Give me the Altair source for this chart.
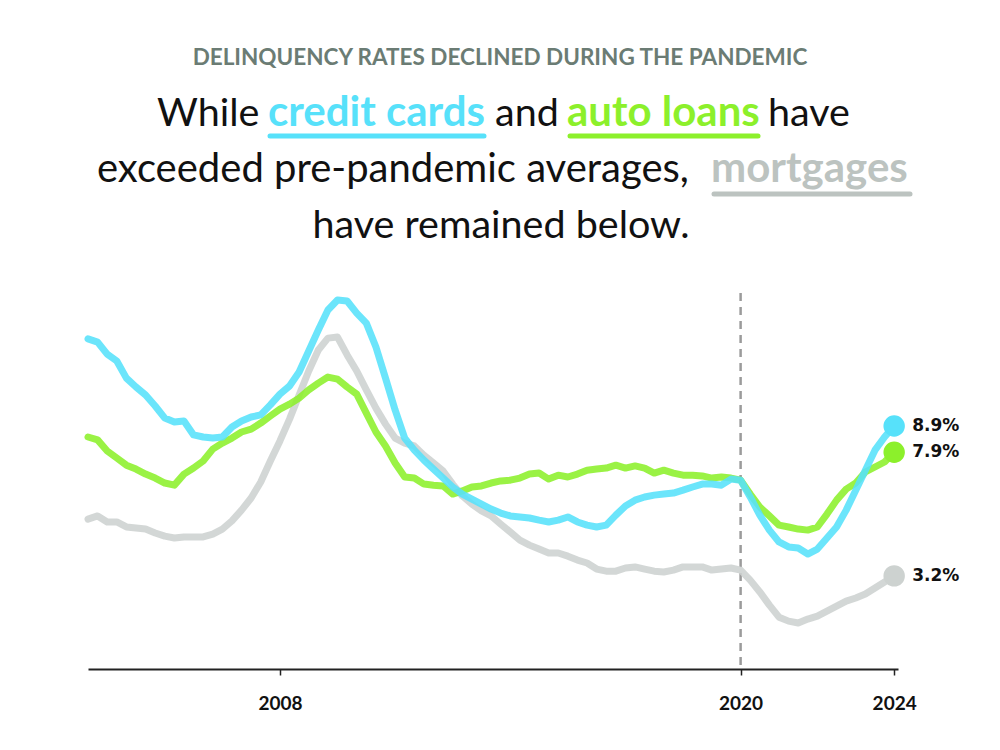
import altair as alt
import pandas as pd

start_year = 2003
credit_cards = [12.21, 12.09, 11.63, 11.37, 10.72, 10.38, 10.08, 9.66, 9.20, 9.05, 9.09, 8.56, 8.48, 8.44, 8.48, 8.86,
                9.09, 9.24, 9.32, 9.70, 10.11, 10.42, 10.95, 11.75, 12.55, 13.31, 13.69, 13.65, 13.19, 12.81, 11.90, 10.72,
                9.51, 8.44, 7.98, 7.60, 7.26, 6.92, 6.58, 6.31, 6.12, 5.93, 5.74, 5.59, 5.48, 5.44, 5.40, 5.32,
                5.25, 5.32, 5.44, 5.25, 5.13, 5.06, 5.13, 5.51, 5.86, 6.08, 6.20, 6.27, 6.31, 6.35, 6.46, 6.58,
                6.69, 6.69, 6.65, 6.88, 6.84, 6.20, 5.51, 4.94, 4.49, 4.30, 4.26, 4.03, 4.22, 4.64, 5.06, 5.70,
                6.46, 7.22, 7.98, 8.48, 8.90]
auto_loans = [8.48, 8.37, 7.95, 7.68, 7.41, 7.26, 7.07, 6.92, 6.73, 6.65, 7.07, 7.30, 7.57, 8.02, 8.25, 8.44,
              8.67, 8.78, 9.01, 9.28, 9.54, 9.73, 9.96, 10.27, 10.53, 10.76, 10.68, 10.38, 10.11, 9.39, 8.67, 8.14,
              7.49, 6.96, 6.92, 6.69, 6.65, 6.62, 6.31, 6.43, 6.58, 6.62, 6.73, 6.81, 6.84, 6.92, 7.07, 7.11,
              6.88, 7.03, 6.96, 7.07, 7.22, 7.26, 7.30, 7.41, 7.30, 7.38, 7.30, 7.11, 7.22, 7.11, 7.03, 7.03,
              7.00, 6.92, 6.96, 6.92, 6.84, 6.31, 5.82, 5.48, 5.13, 5.06, 4.98, 4.94, 5.06, 5.55, 6.08, 6.50,
              6.73, 7.15, 7.34, 7.53, 7.90]
mortgages = [5.36, 5.48, 5.25, 5.25, 5.06, 5.02, 4.98, 4.83, 4.71, 4.64, 4.68, 4.68, 4.68, 4.79, 4.98, 5.29,
             5.70, 6.16, 6.77, 7.57, 8.33, 9.16, 10.08, 10.99, 11.79, 12.24, 12.28, 11.60, 10.99, 10.27, 9.58, 8.97,
             8.44, 8.25, 8.14, 7.79, 7.49, 7.19, 6.69, 6.24, 5.93, 5.67, 5.48, 5.17, 4.87, 4.56, 4.37, 4.22,
             4.07, 4.07, 3.95, 3.80, 3.69, 3.46, 3.38, 3.38, 3.50, 3.54, 3.46, 3.38, 3.35, 3.42, 3.54, 3.54,
             3.54, 3.42, 3.46, 3.50, 3.42, 3.04, 2.59, 2.09, 1.63, 1.48, 1.41, 1.56, 1.67, 1.86, 2.05, 2.24,
             2.36, 2.51, 2.74, 2.97, 3.20]
series_names = ["Mortgages", "Auto loans", "Credit cards"]
series_colors = ["#cdd2d0", "#8cf02b", "#57e1fa"]
end_labels = ["3.2%", "7.9%", "8.9%"]
tick_years = [2008, 2020, 2024]
pandemic_year = 2020

rows = []
for name, vals in zip(series_names, [mortgages, auto_loans, credit_cards]):
    for i, v in enumerate(vals):
        rows.append({"year": start_year + i / 4, "rate": v, "series": name, "order": series_names.index(name)})
df = pd.DataFrame(rows)
last = df.groupby("series", as_index=False).last()
last["label"] = [end_labels[series_names.index(s)] for s in last["series"]]

W, H = 810, 409
xscale = alt.Scale(domain=[2003, 2024.1], nice=False, zero=False)
yscale = alt.Scale(domain=[-0.34, 15.21], nice=False, zero=False)
color = alt.Color("series:N", scale=alt.Scale(domain=series_names, range=series_colors), legend=None)

base = alt.Chart(df)
lines = base.mark_line(strokeWidth=7, opacity=0.88, strokeJoin="round", strokeCap="round").encode(
    x=alt.X("year:Q", scale=xscale,
            axis=alt.Axis(values=tick_years, format="d", title=None, grid=False, domainColor="#222222",
                          domainWidth=2, tickColor="#222222", tickWidth=1.5, tickSize=6, labelPadding=19,
                          labelFont="Lato", labelFontWeight="bold", labelFontSize=19, labelColor="#111111")),
    y=alt.Y("rate:Q", scale=yscale, axis=None),
    color=color,
    detail="series:N",
    order="order:Q",
)

dash = alt.Chart(pd.DataFrame({"year": [pandemic_year]})).mark_rule(
    strokeDash=[8, 6], color="#9b9b9b", strokeWidth=2.5).encode(
    x=alt.X("year:Q", scale=xscale), y=alt.value(33), y2=alt.value(H))

dots = alt.Chart(last).mark_circle(size=460, opacity=1).encode(
    x=alt.X("year:Q", scale=xscale), y=alt.Y("rate:Q", scale=yscale), color=color)
labels = alt.Chart(last).mark_text(align="left", baseline="middle", dx=18, font="DejaVu Sans", fontWeight="bold",
                                   fontSize=17, color="#111111").encode(
    x=alt.X("year:Q", scale=xscale), y=alt.Y("rate:Q", scale=yscale), text="label:N")

ox, oy = 88, 260  # plot origin on the page


def txt(s, X, Y, size, color="#111111", weight="normal", align="left", font="Lato"):
    return alt.Chart(pd.DataFrame({"t": [s]})).mark_text(
        align=align, baseline="alphabetic", font=font, fontSize=size, fontWeight=weight, color=color).encode(
        x=alt.value(X - ox), y=alt.value(Y - oy), text="t:N")


def uline(X1, X2, Y, color):
    return alt.Chart(pd.DataFrame({"a": [0]})).mark_rule(strokeWidth=5, strokeCap="round", color=color).encode(
        x=alt.value(X1 - ox), x2=alt.value(X2 - ox), y=alt.value(Y - oy))


gray_word = "#bcc3c0"
RS, BS = 39.5, 42
texts = [
    txt("DELINQUENCY RATES DECLINED DURING THE PANDEMIC", 500, 65, 22.5, "#6b7c74", "bold", "center"),
    txt("While", 157, 126, RS),
    txt("credit cards", 268, 126, BS, series_colors[2], "bold"),
    txt("and", 495, 126, RS),
    txt("auto loans", 567, 126, BS, series_colors[1], "bold"),
    txt("have", 768, 126, RS),
    txt("exceeded pre-pandemic averages,", 97, 182, 40),
    txt("mortgages", 711, 182, BS, gray_word, "bold"),
    txt("have remained below.", 501, 238, RS, align="center"),
    uline(270, 484, 136, series_colors[2]),
    uline(570, 758, 136, series_colors[1]),
    uline(714, 910, 194, gray_word),
]

chart = alt.layer(dash, lines, dots, labels, *texts).properties(
    width=W, height=H,
    padding={"left": ox, "top": oy, "right": 1000 - ox - W, "bottom": 750 - oy - H},
    autosize=alt.AutoSizeParams(type="none"),
    background="white",
).configure_view(stroke=None)

chart.save("out.html", embed_options={"renderer": "svg", "actions": False})
